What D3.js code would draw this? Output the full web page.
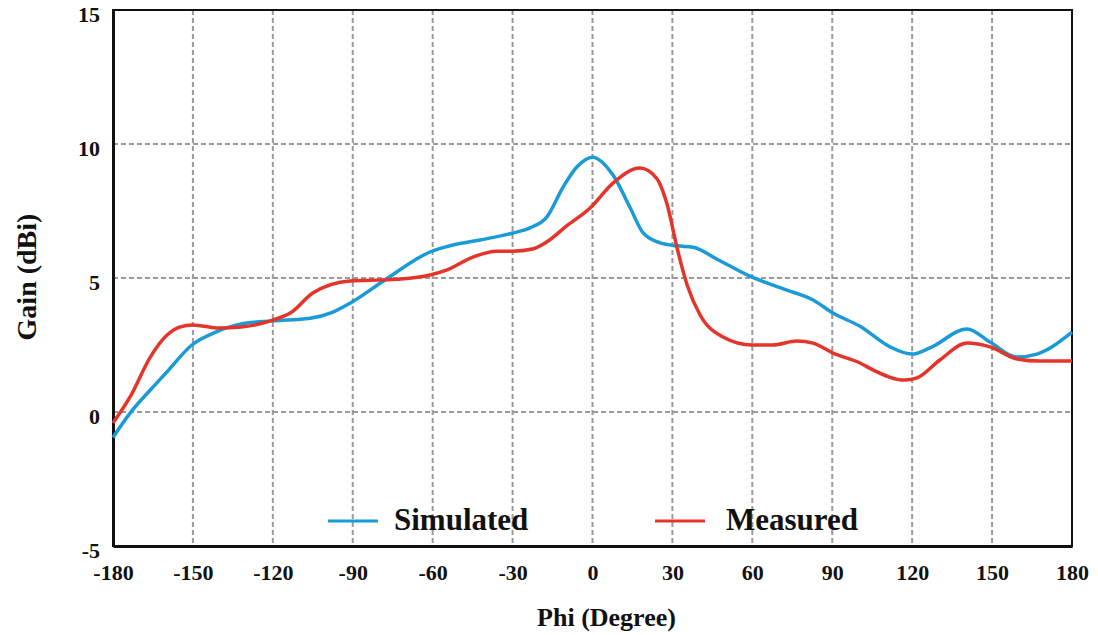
<!DOCTYPE html>
<html>
<head>
<meta charset="utf-8">
<script src="https://cdn.jsdelivr.net/npm/d3@7"></script>
<style>
  body { margin: 0; background: #fff; }
  text { font-family: "Liberation Serif", "Times New Roman", serif; font-weight: bold; fill: #111; }
</style>
</head>
<body>
<div id="chart"></div>
<script>
// phi (degree) and gain (dBi)
const simPhi = [-180, -173.6, -166, -159.7, -150.4, -141, -132.3, -120, -106, -97.4, -91, -78.6, -61, -52.4, -42.2, -29.8, -23.5, -17.1, -11, -5.8, 0, 7.7, 14, 19, 25.4, 31.8, 37.8, 46.8, 59.5, 73, 82.8, 90.3, 100.4, 111.7, 119.9, 126.7, 140.6, 149.2, 159.4, 166.8, 180];
const simGain = [-0.95, -0.04, 0.82, 1.5, 2.5, 3.0, 3.28, 3.4, 3.5, 3.73, 4.06, 4.88, 5.97, 6.23, 6.42, 6.68, 6.87, 7.28, 8.4, 9.15, 9.51, 8.84, 7.65, 6.68, 6.31, 6.2, 6.15, 5.7, 5.05, 4.55, 4.18, 3.69, 3.2, 2.43, 2.16, 2.39, 3.1, 2.61, 2.05, 2.16, 2.98];

const measPhi = [-180, -173.6, -166, -159.7, -155, -150, -140, -132, -120, -113.5, -105, -91, -78.6, -72, -61, -54.6, -44.9, -36, -30, -22.5, -17.1, -9.6, -1, 7.7, 17.8, 24, 28, 31.8, 35.5, 40.4, 49, 59.9, 67.7, 76.7, 82.8, 90.3, 100.4, 105.3, 117.3, 121.8, 130.4, 140.6, 149.2, 159.4, 168, 180];
const measGain = [-0.41, 0.56, 2.05, 2.87, 3.17, 3.25, 3.13, 3.17, 3.43, 3.69, 4.44, 4.89, 4.93, 4.96, 5.11, 5.3, 5.78, 6.0, 6.0, 6.08, 6.35, 6.95, 7.6, 8.54, 9.1, 8.73, 7.75, 6.1, 4.75, 3.62, 2.8, 2.5, 2.5, 2.65, 2.57, 2.2, 1.83, 1.57, 1.19, 1.27, 1.94, 2.57, 2.43, 1.98, 1.9, 1.9];

const xTicks = [-180, -150, -120, -90, -60, -30, 0, 30, 60, 90, 120, 150, 180];
const yTicks = [-5, 0, 5, 10, 15];
const seriesNames = ["Simulated", "Measured"];
const seriesColors = ["#1a9ad6", "#e5342a"];

const width = 1098, height = 635;
const margin = { left: 113, right: 26, top: 10, bottom: 89 };

const x = d3.scaleLinear().domain([-180, 180]).range([margin.left, width - margin.right]);
const y = d3.scaleLinear().domain([-5, 15]).range([height - margin.bottom, margin.top]);

const svg = d3.select("#chart").append("svg")
  .attr("width", width)
  .attr("height", height);

// grid lines (inner only)
const grid = svg.append("g")
  .attr("stroke", "#9a9a9a")
  .attr("stroke-width", 2)
  .attr("stroke-dasharray", "5,3");
grid.selectAll("line.v")
  .data(xTicks.slice(1, -1))
  .join("line")
  .attr("x1", (d) => x(d)).attr("x2", (d) => x(d))
  .attr("y1", y(15)).attr("y2", y(-5));
grid.selectAll("line.h")
  .data(yTicks.slice(1, -1))
  .join("line")
  .attr("x1", x(-180)).attr("x2", x(180))
  .attr("y1", (d) => y(d)).attr("y2", (d) => y(d));

// frame
svg.append("rect")
  .attr("x", x(-180)).attr("y", y(15))
  .attr("width", x(180) - x(-180)).attr("height", y(-5) - y(15))
  .attr("fill", "none").attr("stroke", "#111").attr("stroke-width", 2);

// axes without tick marks, plain hyphen for negatives
const fmt = (d) => String(d);
const xAxis = svg.append("g")
  .attr("transform", `translate(0,${y(-5)})`)
  .call(d3.axisBottom(x).tickValues(xTicks).tickFormat(fmt).tickSize(0).tickPadding(18));
const yAxis = svg.append("g")
  .attr("transform", `translate(${x(-180)},0)`)
  .call(d3.axisLeft(y).tickValues(yTicks).tickFormat(fmt).tickSize(0).tickPadding(13));
[xAxis, yAxis].forEach((g) => {
  g.select(".domain").attr("stroke", "#111").attr("stroke-width", 3);
  g.selectAll("text")
    .attr("font-family", "Liberation Serif, Times New Roman, serif")
    .attr("font-weight", "bold")
    .attr("font-size", 22)
    .attr("fill", "#111");
});
yAxis.selectAll("text").attr("dy", "0.52em");

// curves
const line = d3.line()
  .x((d) => x(d[0]))
  .y((d) => y(d[1]))
  .curve(d3.curveMonotoneX);

const series = [
  d3.zip(simPhi, simGain),
  d3.zip(measPhi, measGain),
];
svg.append("g")
  .selectAll("path")
  .data(series)
  .join("path")
  .attr("d", line)
  .attr("fill", "none")
  .attr("stroke", (d, i) => seriesColors[i])
  .attr("stroke-width", 3.5)
  .attr("stroke-linejoin", "round");

// legend
const legendX = [328, 655];
const legend = svg.append("g");
seriesNames.forEach((name, i) => {
  legend.append("line")
    .attr("x1", legendX[i]).attr("x2", legendX[i] + 50)
    .attr("y1", 521).attr("y2", 521)
    .attr("stroke", seriesColors[i]).attr("stroke-width", 3);
  legend.append("text")
    .attr("x", legendX[i] + (i === 0 ? 66 : 71)).attr("y", 530)
    .attr("font-size", 31)
    .text(name);
});

// axis titles
svg.append("text")
  .attr("x", x(0) + 14).attr("y", 626)
  .attr("text-anchor", "middle")
  .attr("font-size", 26)
  .text("Phi (Degree)");
svg.append("text")
  .attr("transform", `translate(36,${y(5) - 1}) rotate(-90)`)
  .attr("text-anchor", "middle")
  .attr("font-size", 28)
  .text("Gain (dBi)");
</script>
</body>
</html>
